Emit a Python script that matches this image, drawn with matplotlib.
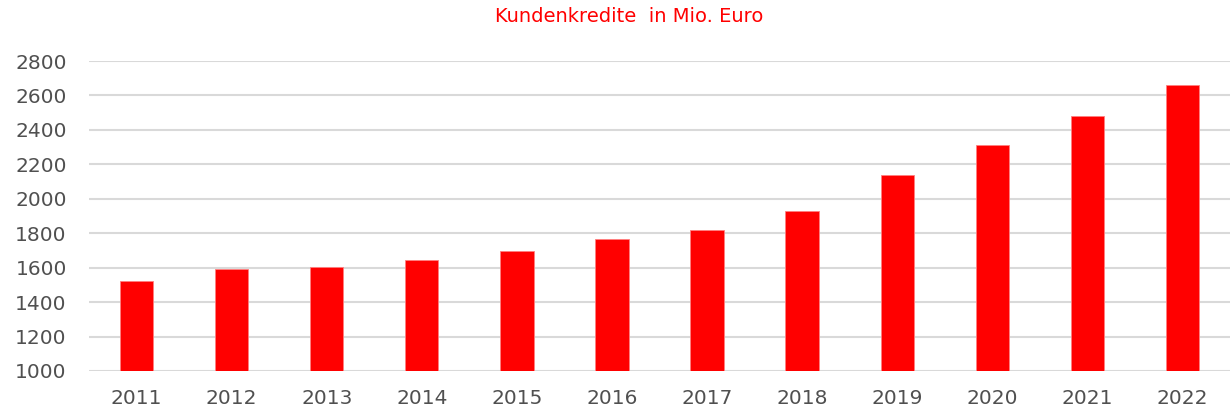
import matplotlib
matplotlib.use("Agg")
import matplotlib.pyplot as plt

years = ["2011", "2012", "2013", "2014", "2015", "2016", "2017", "2018", "2019", "2020", "2021", "2022"]
values = [1522, 1593, 1603, 1642, 1698, 1765, 1817, 1930, 2137, 2315, 2483, 2660]
yticks = [1000, 1200, 1400, 1600, 1800, 2000, 2200, 2400, 2600, 2800]

fig = plt.figure(figsize=(12.3, 4.13), dpi=100)
ax = fig.add_axes([89/1230, 1-371/413, 1-89/1230, (371-61)/413])

x = range(len(years))
ax.bar(x, [v - 1000 for v in values], bottom=1000, width=0.35, color="#ff0000",
       edgecolor="#ff8080", linewidth=0.6, zorder=3)

ax.set_xlim(-0.5, len(years) - 0.5)
ax.set_ylim(1000, 2800)
ax.set_yticks(yticks)
ax.set_xticks(list(x))
ax.set_xticklabels(years)
ax.yaxis.grid(True, color="#d9d9d9", linewidth=1.5, zorder=0)
ax.set_axisbelow(True)
for s in ax.spines.values():
    s.set_visible(False)
ax.tick_params(axis="both", length=0, labelsize=14.5, labelcolor="#505050")
ax.tick_params(axis="y", pad=16)
ax.tick_params(axis="x", pad=13)

fig.text(629/1230, 1-17/413, "Kundenkredite  in Mio. Euro", color="#ff0000",
         fontsize=14, ha="center", va="center")

fig.savefig("out.png", dpi=100)
